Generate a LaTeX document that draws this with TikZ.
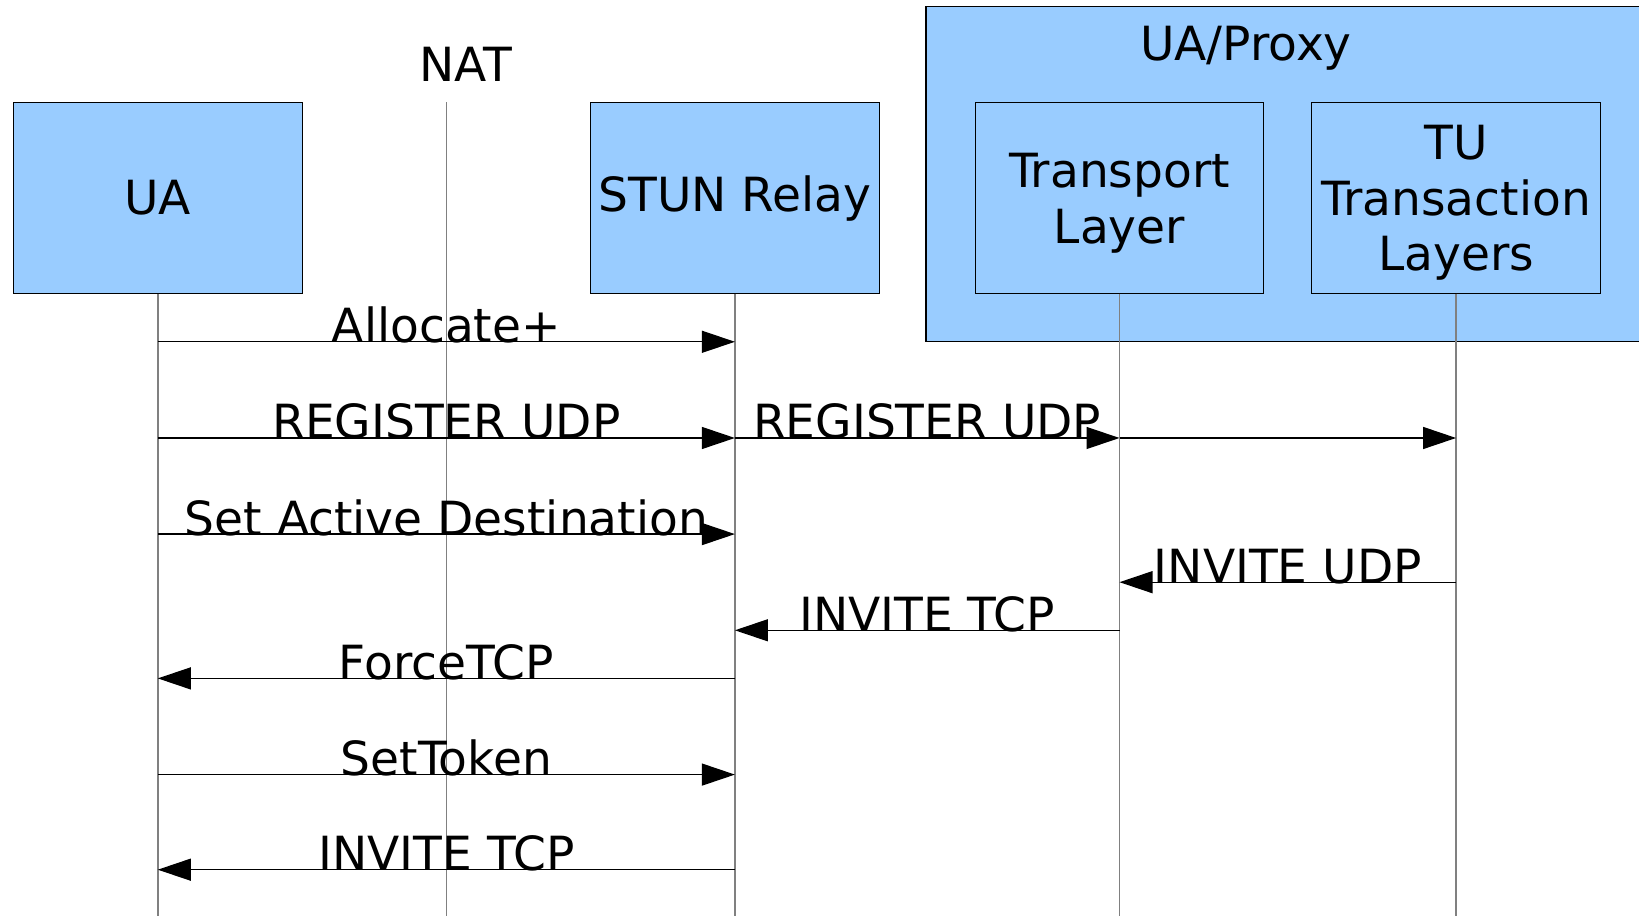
\documentclass[tikz,border=0pt]{standalone}
\usepackage{fontspec}
\setmainfont{DejaVu Sans}
\usepackage{xcolor}
\usetikzlibrary{positioning}
\usetikzlibrary{arrows.meta}
\definecolor{boxblue}{RGB}{153,204,255}
\definecolor{lifegray}{RGB}{128,128,128}
\tikzset{%
  entity/.style={draw=black,fill=boxblue,line width=0.3pt,minimum width=2.885cm,minimum height=1.913cm,inner sep=0pt,outer sep=0pt,align=center},
  group/.style={draw=black,fill=boxblue,line width=0.4pt},
  lifeline/.style={lifegray,line width=0.4pt},
  msg/.style={black,line width=0.35pt,-{Triangle[length=0.33cm,width=0.22cm]}},
  msglabel/.style={anchor=base,inner sep=0pt,yshift=-0.01cm}
}

\begin{document}
\begin{tikzpicture}[font=\fontsize{13.4}{15.8}\selectfont]
  \useasboundingbox (0,0) rectangle (16.39,-9.16);
  \clip (0,0) rectangle (16.39,-9.16);

  % UA/Proxy frame
  \draw[group] (9.261,-0.063) rectangle (17.0,-3.418);
  \node[anchor=base] (proxy) at (12.46,-0.608) {UA/Proxy};

  % entities
  \node[entity] (ua) at (1.578,-1.981) {UA};
  \node[entity, right=2.886cm of ua] (stun) {STUN Relay};
  \node[entity, text depth=0pt, right=0.961cm of stun] (tl) {Transport\\Layer};
  \node[entity, text depth=0pt, right=0.481cm of tl] (tu) {TU\\Transaction\\Layers};
  \node[anchor=base] (nat) at (4.655,-0.817) {NAT};
  \coordinate (nattop) at (4.463,-1.024);

  % lifelines
  \coordinate (bottom) at (0,-9.3);
  \draw[lifeline] (ua.south) -- (ua |- bottom);
  \draw[lifeline] (nattop) -- (nattop |- bottom);
  \draw[lifeline] (stun.south) -- (stun |- bottom);
  \draw[lifeline] (tl.south) -- (tl |- bottom);
  \draw[lifeline] (tu.south) -- (tu |- bottom);

  % messages
  \draw[msg] (ua |- 0,-3.418) -- node[msglabel] {Allocate+} (stun |- 0,-3.418);
  \draw[msg] (ua |- 0,-4.380) -- node[msglabel] {REGISTER UDP} (stun |- 0,-4.380);
  \draw[msg] (stun |- 0,-4.380) -- node[msglabel] {REGISTER UDP} (tl |- 0,-4.380);
  \draw[msg] (tl |- 0,-4.380) -- (tu |- 0,-4.380);
  \draw[msg] (ua |- 0,-5.341) -- node[msglabel] {Set Active Destination} (stun |- 0,-5.341);
  \draw[msg] (tu |- 0,-5.822) -- node[msglabel] {INVITE UDP} (tl |- 0,-5.822);
  \draw[msg] (tl |- 0,-6.303) -- node[msglabel] {INVITE TCP} (stun |- 0,-6.303);
  \draw[msg] (stun |- 0,-6.784) -- node[msglabel] {ForceTCP} (ua |- 0,-6.784);
  \draw[msg] (ua |- 0,-7.746) -- node[msglabel] {SetToken} (stun |- 0,-7.746);
  \draw[msg] (stun |- 0,-8.697) -- node[msglabel] {INVITE TCP} (ua |- 0,-8.697);
\end{tikzpicture}
\end{document}
